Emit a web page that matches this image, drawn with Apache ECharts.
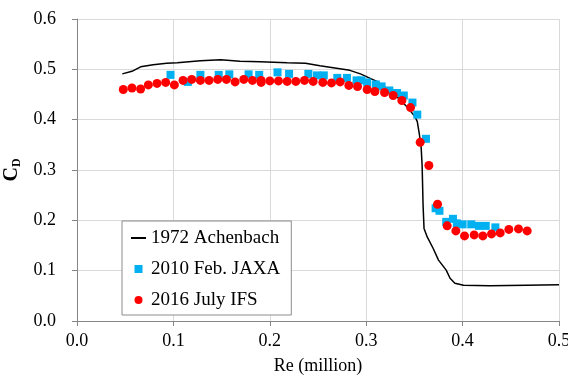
<!DOCTYPE html>
<html>
<head>
<meta charset="utf-8">
<script src="https://cdn.jsdelivr.net/npm/echarts@6/dist/echarts.min.js"></script>
<style>
  html, body { margin: 0; padding: 0; background: #fff; }
  #chart { width: 568px; height: 375px; }
</style>
</head>
<body>
<div id="chart"></div>
<script>
// 1972 Achenbach (line)
var achRe = [0.047, 0.057, 0.066, 0.079, 0.093, 0.104, 0.128, 0.149, 0.169, 0.190, 0.218, 0.237, 0.252, 0.283, 0.294,
             0.311, 0.328, 0.342, 0.3506, 0.353, 0.355, 0.357, 0.358, 0.3585, 0.359, 0.360, 0.3633, 0.3695, 0.375,
             0.383, 0.387, 0.392, 0.401, 0.428, 0.466, 0.500];
var achCd = [0.491, 0.496, 0.505, 0.509, 0.512, 0.513, 0.517, 0.519, 0.516, 0.515, 0.513, 0.512, 0.507, 0.498, 0.491,
             0.476, 0.453, 0.426, 0.406, 0.396, 0.373, 0.345, 0.310, 0.270, 0.230, 0.184, 0.167, 0.144, 0.121,
             0.101, 0.085, 0.075, 0.071, 0.070, 0.071, 0.072];

// 2010 Feb. JAXA (squares)
var jaxaRe = [0.097, 0.115, 0.128, 0.147, 0.158, 0.178, 0.189, 0.208, 0.220, 0.240, 0.249, 0.256, 0.270, 0.280, 0.290,
              0.295, 0.301, 0.310, 0.316, 0.324, 0.332, 0.339, 0.348, 0.353, 0.362, 0.372, 0.376, 0.383, 0.390, 0.394,
              0.400, 0.409, 0.417, 0.424, 0.434];
var jaxaCd = [0.489, 0.475, 0.489, 0.489, 0.490, 0.490, 0.489, 0.494, 0.491, 0.491, 0.488, 0.488, 0.483, 0.483, 0.478,
              0.478, 0.474, 0.470, 0.466, 0.458, 0.453, 0.448, 0.434, 0.410, 0.362, 0.224, 0.219, 0.197, 0.203, 0.194,
              0.192, 0.192, 0.189, 0.189, 0.186];

// 2016 July IFS (circles)
var ifsRe = [0.048, 0.057, 0.066, 0.074, 0.083, 0.092, 0.101, 0.110, 0.119, 0.128, 0.137, 0.146, 0.155, 0.164, 0.173,
             0.182, 0.191, 0.191, 0.200, 0.209, 0.218, 0.227, 0.236, 0.245, 0.255, 0.264, 0.273, 0.282, 0.291, 0.301,
             0.309, 0.319, 0.328, 0.337, 0.346, 0.356, 0.365, 0.374, 0.384, 0.393, 0.402, 0.412, 0.421, 0.430, 0.439,
             0.448, 0.458, 0.467];
var ifsCd = [0.460, 0.463, 0.461, 0.469, 0.472, 0.474, 0.469, 0.478, 0.480, 0.478, 0.478, 0.480, 0.480, 0.475, 0.480,
             0.478, 0.478, 0.474, 0.477, 0.477, 0.476, 0.476, 0.478, 0.476, 0.474, 0.473, 0.475, 0.468, 0.466, 0.460,
             0.456, 0.454, 0.448, 0.438, 0.424, 0.355, 0.309, 0.232, 0.189, 0.179, 0.169, 0.171, 0.169, 0.173, 0.175,
             0.182, 0.183, 0.179];

var seriesNames = ['1972 Achenbach', '2010 Feb. JAXA', '2016 July IFS'];

function pairs(xs, ys) {
  var out = [];
  for (var i = 0; i < xs.length; i++) out.push([xs[i], ys[i]]);
  return out;
}

var font = 'Liberation Serif';
var chart = echarts.init(document.getElementById('chart'));

function tickFmt(v) { return v.toFixed(1); }
var tickLabel = {
  fontFamily: font, fontSize: 18, fontWeight: 'normal', fontStyle: 'normal', color: '#000',
  textStyle: { fontFamily: font, fontSize: 18, color: '#000' },
  formatter: tickFmt
};

var option = {
  animation: false,
  textStyle: { fontFamily: font, color: '#000' },
  grid: { left: 77, right: 9, top: 19, bottom: 54, outerBoundsMode: 'none', containLabel: false },
  legend: {
    orient: 'vertical',
    left: 122,
    top: 221,
    padding: [7, 11, 5, 8],
    itemGap: 11,
    itemWidth: 15,
    itemHeight: 8,
    backgroundColor: '#fff',
    borderColor: '#8c8c8c',
    borderWidth: 1,
    borderRadius: 0,
    textStyle: { fontFamily: font, fontSize: 19, color: '#000', lineHeight: 20 },
    data: [
      { name: seriesNames[0], itemStyle: { opacity: 0 } },
      { name: seriesNames[1], icon: 'path://M0,0 L8,0 L8,8 L0,8 Z' },
      { name: seriesNames[2], icon: 'circle' }
    ]
  },
  xAxis: {
    type: 'value',
    min: 0,
    max: 0.5,
    interval: 0.1,
    name: 'Re (million)',
    nameLocation: 'middle',
    nameGap: 36,
    nameTextStyle: { fontFamily: font, fontSize: 18, color: '#000' },
    axisLine: { lineStyle: { color: '#868686' } },
    axisTick: { show: true, inside: false, length: 5, lineStyle: { color: '#868686' } },
    axisLabel: echarts.util.extend({ margin: 11 }, tickLabel),
    splitLine: { show: true, lineStyle: { color: '#d9d9d9' } }
  },
  yAxis: {
    type: 'value',
    min: 0,
    max: 0.6,
    interval: 0.1,
    name: '{c|C}{d|D}',
    nameLocation: 'middle',
    nameGap: 50,
    nameRotate: 90,
    nameTextStyle: {
      rich: {
        c: { fontFamily: font, fontSize: 20, fontWeight: 'bold', color: '#000' },
        d: { fontFamily: font, fontSize: 12, fontWeight: 'bold', color: '#000', padding: [9, 0, 0, 0] }
      }
    },
    axisLine: { show: true, lineStyle: { color: '#868686' } },
    axisTick: { show: true, inside: false, length: 5, lineStyle: { color: '#868686' } },
    axisLabel: echarts.util.extend({ margin: 21 }, tickLabel),
    splitLine: { show: true, lineStyle: { color: '#d9d9d9' } }
  },
  series: [
    {
      name: seriesNames[0],
      type: 'line',
      data: pairs(achRe, achCd),
      symbol: 'none',
      lineStyle: { color: '#000', width: 1.5 },
      itemStyle: { color: '#000' },
      z: 2
    },
    {
      name: seriesNames[1],
      type: 'scatter',
      data: pairs(jaxaRe, jaxaCd),
      symbol: 'rect',
      symbolSize: 8,
      symbolKeepAspect: true,
      itemStyle: { color: '#00b0f0', opacity: 1 },
      z: 3
    },
    {
      name: seriesNames[2],
      type: 'scatter',
      data: pairs(ifsRe, ifsCd),
      symbol: 'circle',
      symbolSize: 9,
      itemStyle: { color: '#ff0000', opacity: 1 },
      z: 4
    }
  ]
};

chart.setOption(option);
</script>
</body>
</html>
